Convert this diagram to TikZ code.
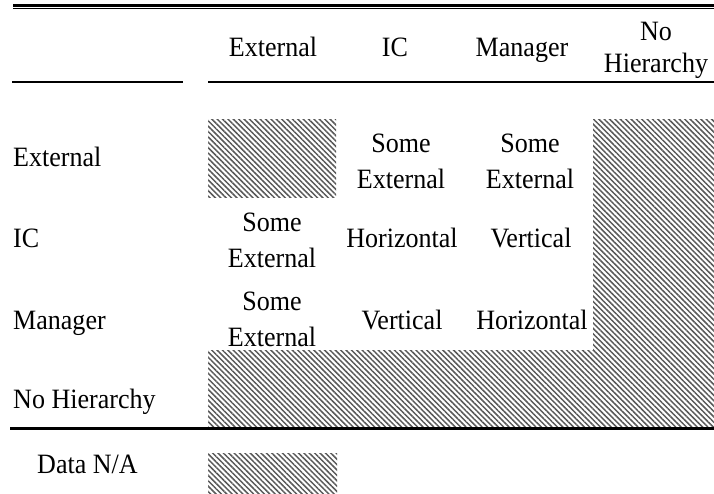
\documentclass[tikz,border=0pt]{standalone}
\usepackage{fontspec}
\setmainfont[FakeStretch=0.93]{Liberation Serif}
\usetikzlibrary{patterns.meta}
\tikzset{
  txt/.style={inner sep=0pt, anchor=base, font=\fontsize{28}{32}\selectfont},
  rowlab/.style={inner sep=0pt, anchor=base west, font=\fontsize{28}{32}\selectfont},
  hatch/.style={pattern={Lines[angle=-45,distance=3.8pt,line width=1.5pt]}, pattern color=black!65},
  rule/.style={line width=2.2pt, line cap=butt}
}
\begin{document}
\begin{tikzpicture}[x=1pt,y=-1pt]
\useasboundingbox (0,0) rectangle (714,493);
% rules
\draw[line width=2.6pt] (13,5.3) -- (714,5.3);
\draw[line width=1.4pt] (13,8.6) -- (714,8.6);
\draw[rule] (12,82) -- (183,82);
\draw[rule] (208,82) -- (714,82);
% hatched areas
\fill[hatch] (208,119) rectangle (336,197);
\fill[hatch] (593,119) -- (714,119) -- (714,427) -- (208,427) -- (208,350) -- (593,350) -- cycle;
\fill[hatch] (208,453) rectangle (337,493);
\draw[line width=2.5pt] (10,428.5) -- (714,428.5);
% header
\node[txt] (hExt) at (273,56) {External};
\node[txt] (hIC) at (395,56) {IC};
\node[txt] (hMan) at (522,56) {Manager};
\node[txt] (hNo1) at (656,40) {No};
\node[txt] (hNo2) at (656,72) {Hierarchy};
% row labels
\node[rowlab] (rExt) at (13,166) {External};
\node[rowlab] (rIC) at (13,247) {IC};
\node[rowlab] (rMan) at (13,329) {Manager};
\node[rowlab] (rNo) at (13,408) {No Hierarchy};
\node[rowlab] (dna) at (37,473) {Data N/A};
% row 1
\node[txt] (c12a) at (401,152) {Some};
\node[txt] (c12b) at (401,188) {External};
\node[txt] (c13a) at (530,152) {Some};
\node[txt] (c13b) at (530,188) {External};
% row 2
\node[txt] (c21a) at (272,231) {Some};
\node[txt] (c21b) at (272,267) {External};
\node[txt] (c22) at (402,247) {Horizontal};
\node[txt] (c23) at (531,247) {Vertical};
% row 3
\node[txt] (c31a) at (272,310) {Some};
\node[txt] (c31b) at (272,346) {External};
\node[txt] (c32) at (402,329) {Vertical};
\node[txt] (c33) at (532,329) {Horizontal};
\end{tikzpicture}
\end{document}
